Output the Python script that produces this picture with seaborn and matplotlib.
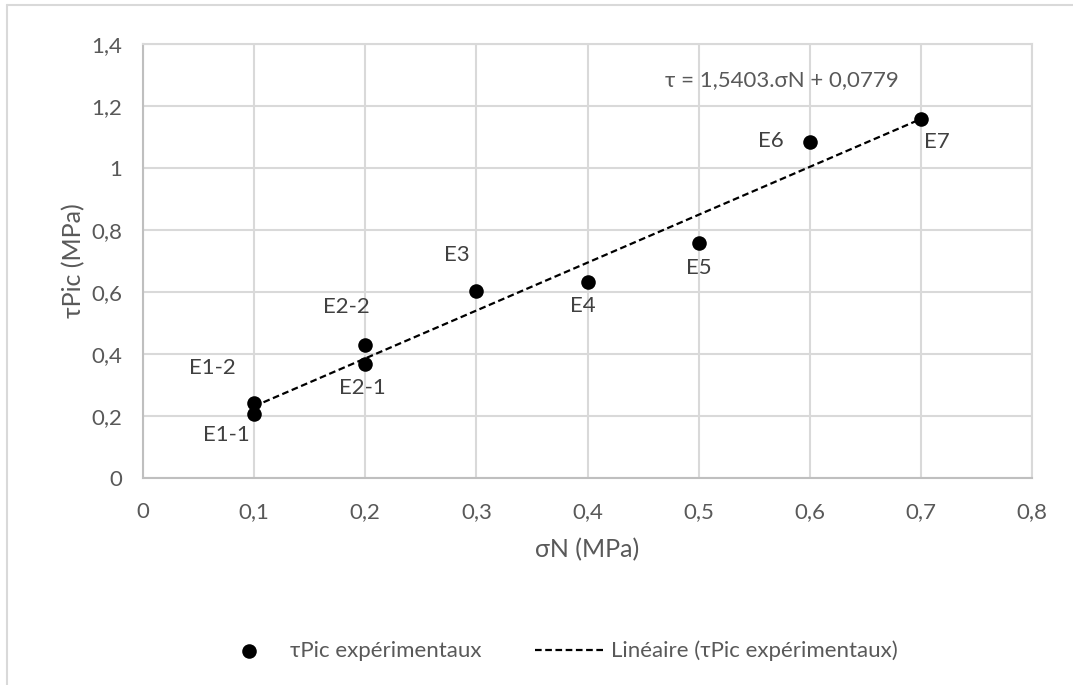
import numpy as np
import pandas as pd
import matplotlib.pyplot as plt
from matplotlib.lines import Line2D
from matplotlib.ticker import FuncFormatter
import seaborn as sns

# data
sigma_n = [0.1, 0.1, 0.2, 0.2, 0.3, 0.4, 0.5, 0.6, 0.7]
tau_pic = [0.206, 0.242, 0.368, 0.429, 0.603, 0.632, 0.758, 1.084, 1.158]
labels = ['E1-1', 'E1-2', 'E2-1', 'E2-2', 'E3', 'E4', 'E5', 'E6', 'E7']
# label offsets in pixels (dx, dy)
offsets = [(-28, -21), (-42, 35), (-3, -24), (-19, 38), (-20, 36), (-5, -24), (0, -25), (-39, 1), (16, -23)]

df = pd.DataFrame({'sigma': sigma_n, 'tau': tau_pic, 'label': labels})

sns.set_style('white')
plt.rcParams['font.family'] = ['Lato', 'DejaVu Sans']
txt = '#595959'
grid = '#d9d9d9'

fig = plt.figure(figsize=(10.73, 6.85), dpi=100)
ax = fig.add_axes([143 / 1073, 1 - 478 / 685, (1032 - 143) / 1073, (478 - 44) / 685])

sns.scatterplot(data=df, x='sigma', y='tau', ax=ax, color='black', s=110,
                edgecolor='black', linewidth=0, zorder=4, label='τPic expérimentaux')
sns.regplot(data=df, x='sigma', y='tau', ax=ax, scatter=False, ci=None,
            line_kws=dict(color='black', ls=(0, (3, 1.6)), lw=1.6, zorder=3),
            label='Linéaire (τPic expérimentaux)')

for x, y, lab, (dx, dy) in zip(sigma_n, tau_pic, labels, offsets):
    ax.annotate(lab, (x, y), xytext=(dx, dy), textcoords='offset pixels',
                ha='center', va='center', fontsize=16, color='#404040')

ax.text(0.47, 1.284, 'τ = 1,5403.σN + 0,0779', fontsize=16, color=txt, va='center')

ax.set_xlim(0, 0.8)
ax.set_ylim(0, 1.4)
ax.set_xticks(np.arange(0, 0.81, 0.1))
ax.set_yticks(np.arange(0, 1.41, 0.2))
fmt = FuncFormatter(lambda v, p: ('%g' % round(v, 2)).replace('.', ','))
ax.xaxis.set_major_formatter(fmt)
ax.yaxis.set_major_formatter(fmt)
ax.tick_params(labelsize=16, colors=txt, length=0)
ax.tick_params(axis='x', pad=17)
ax.tick_params(axis='y', pad=15)
ax.grid(True, color=grid, lw=1.5)
ax.set_axisbelow(True)
for s in ['top', 'right']:
    ax.spines[s].set_color(grid)
    ax.spines[s].set_linewidth(1.5)
for s in ['left', 'bottom']:
    ax.spines[s].set_color('#bfbfbf')
    ax.spines[s].set_linewidth(1.5)

ax.set_xlabel('σN (MPa)', fontsize=18, color=txt, labelpad=12)
ax.set_ylabel('τPic (MPa)', fontsize=18, color=txt, labelpad=4)

ax.get_legend().remove()
handles, leg_labels = ax.get_legend_handles_labels()
fig.legend(handles, leg_labels, loc='center', bbox_to_anchor=(556 / 1073, 1 - 651 / 685), ncol=2,
           frameon=False, fontsize=16, labelcolor=txt, columnspacing=2.4,
           handlelength=3.1, handletextpad=0.3)

# outer chart frame (cropped screenshot)
fig.add_artist(Line2D([7 / 1073, 1], [1 - 5 / 685, 1 - 5 / 685], color=grid, lw=1.5))
fig.add_artist(Line2D([7 / 1073, 7 / 1073], [0, 1 - 5 / 685], color=grid, lw=1.5))

fig.savefig('out.png', dpi=100)
